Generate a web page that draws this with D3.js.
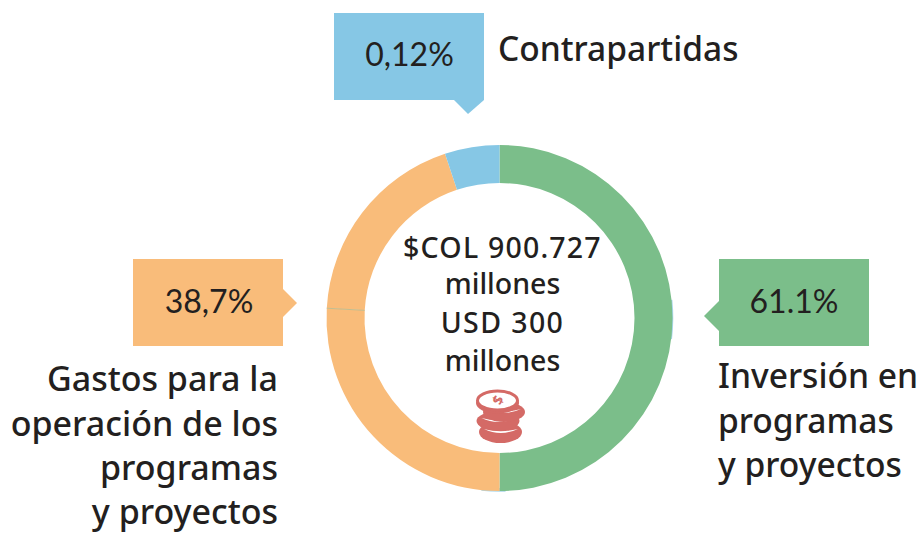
<!DOCTYPE html>
<html><head><meta charset="utf-8">
<script src="https://cdn.jsdelivr.net/npm/d3@7"></script>
<style>html,body{margin:0;background:#fff}svg{display:block}</style></head>
<body><svg id="c" width="919" height="535"></svg>
<script>
const segmentNames = ["Inversión","Gastos A","Gastos B","Contrapartidas"];
const segmentValues = [50, 25.9, 19, 5.1];
const segmentColors = ["#7bbe8a","#f9bc7a","#f9bc7a","#86c7e5"];
const calloutValues = ["0,12%","61.1%","38,7%"];
const calloutColors = ["#86c7e5","#7bbe8a","#f9bc7a"];
const centerLines = ["$COL 900.727","millones","USD 300","millones"];
const labelContrapartidas = ["Contrapartidas"];
const labelInversion = ["Inversión en","programas","y proyectos"];
const labelGastos = ["Gastos para la","operación de los","programas","y proyectos"];

const svg = d3.select("#c");
const ink = "#231f20";
const font = "'Noto Sans','Open Sans',sans-serif";
const cx = 499.5, cy = 318, R = 173, r = 135;
const g = svg.append("g").attr("transform",`translate(${cx},${cy})`);
const arc = d3.arc().innerRadius(r).outerRadius(R);
const pie = d3.pie().sort(null).value(d=>d)(segmentValues);

// thin blue slivers showing behind the ring
[[84,97],[178,186]].forEach(([a,b])=>{
  g.append("path").attr("fill","#a9d6ea")
   .attr("d",d3.arc().innerRadius(170).outerRadius(R+0.8).startAngle(a*Math.PI/180).endAngle(b*Math.PI/180)());
});
g.selectAll("path.seg").data(pie).join("path").attr("class","seg")
  .attr("d",arc).attr("fill",(d,i)=>segmentColors[i]);
// hairline seam in the orange
const seam = pie[1].endAngle;
g.append("line")
  .attr("x1",Math.sin(seam)*r).attr("y1",-Math.cos(seam)*r)
  .attr("x2",Math.sin(seam)*R).attr("y2",-Math.cos(seam)*R)
  .attr("stroke","#c2bd8f").attr("stroke-width",1);

// callouts
const boxes = [
  {x:334,y:13,w:150,h:87,tx:409.5,ty:66,ptr:[[454,100],[468,114],[484,100]]},
  {x:719,y:259,w:150,h:87,tx:794,ty:313,ptr:[[719,301],[704,316],[719,331]]},
  {x:133,y:259,w:150,h:87,tx:209,ty:313,ptr:[[283,289],[297,303],[283,317]]}
];
boxes.forEach((b,i)=>{
  svg.append("rect").attr("x",b.x).attr("y",b.y).attr("width",b.w).attr("height",b.h).attr("fill",calloutColors[i]);
  svg.append("path").attr("d",d3.line()(b.ptr)+"Z").attr("fill",calloutColors[i]);
  svg.append("text").attr("x",b.tx).attr("y",b.ty).attr("text-anchor","middle")
    .attr("font-family","Lato,sans-serif").attr("font-weight",400).attr("font-size",32).attr("fill",ink).text(calloutValues[i]);
});

function lines(arr,x,ys,anchor,size,spacing){
  arr.forEach((t,i)=>svg.append("text").attr("x",x).attr("y",ys[i]).attr("text-anchor",anchor)
    .attr("font-family",font).attr("font-size",size).attr("font-weight",500)
    .attr("letter-spacing",spacing?spacing[i]:0).attr("fill",ink).text(t));
}
lines(labelContrapartidas,498,[61],"start",33.5);
lines(labelInversion,718,[388,433,477],"start",33.6);
lines(labelGastos,278,[391,436,480,524],"end",34);
lines(centerLines,502.5,[258,294,333,371],"middle",28.5,[1.2,0,1.4,0]);

// coins icon
const coin = "#d46a66";
const ic = svg.append("g");
const stack = [[500.5,432,21.5,11],[498,421,21.5,9.5],[504,412,21,10]];
stack.forEach(c=>{
  ic.append("ellipse").attr("cx",c[0]).attr("cy",c[1]).attr("rx",c[2]).attr("ry",c[3]).attr("fill",coin);
  ic.append("path").attr("fill","#fff")
    .attr("d",`M${c[0]-c[2]+5},${c[1]-3} Q${c[0]},${c[1]+5} ${c[0]+c[2]-4},${c[1]-3} Q${c[0]},${c[1]+1.5} ${c[0]-c[2]+5},${c[1]-3}Z`);
});
ic.append("ellipse").attr("cx",497.5).attr("cy",403).attr("rx",21.5).attr("ry",10.5).attr("fill",coin);
ic.append("ellipse").attr("cx",497.5).attr("cy",400.5).attr("rx",20).attr("ry",9.5).attr("fill","#fff").attr("stroke",coin).attr("stroke-width",3);
ic.append("text").attr("x",498).attr("y",405).attr("text-anchor","middle").attr("font-family",font)
  .attr("font-weight",700).attr("font-size",14).attr("fill",coin).attr("transform","rotate(-65 498 400)").text("$");
</script></body></html>
